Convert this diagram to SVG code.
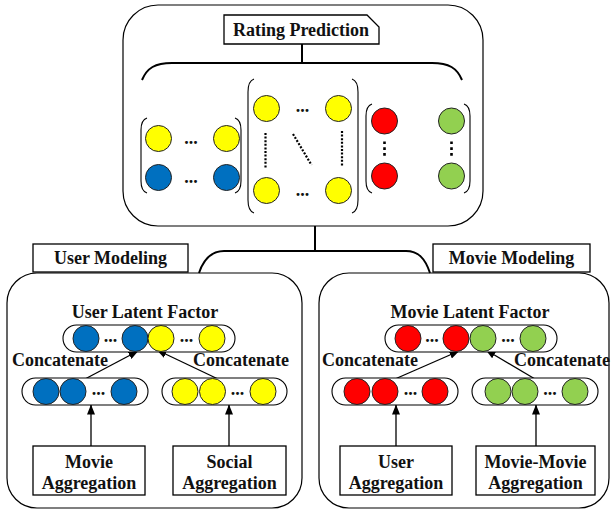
<svg xmlns="http://www.w3.org/2000/svg" width="611" height="510" viewBox="0 0 611 510">
  <style>
    .t { font-family: "Liberation Serif", "Times New Roman", serif; font-weight: bold; font-size: 18px; fill: #111; text-anchor: middle; }
    .panel { fill: #fff; stroke: #000; stroke-width: 1.2; }
    .lbl { fill: #fff; stroke: #000; stroke-width: 1.3; }
    .pill { fill: #fff; stroke: #000; stroke-width: 1.1; }
    .brk { fill: none; stroke: #000; stroke-width: 1.1; }
    .wire { fill: none; stroke: #000; stroke-width: 2; }
    .arr { fill: none; stroke: #000; stroke-width: 1.3; marker-end: url(#head); }
    .dot { fill: none; stroke: #000; stroke-width: 2.2; stroke-dasharray: 2 1.6; }
    .dot3 { fill: none; stroke: #000; stroke-width: 2.6; stroke-dasharray: 2.6 3.2; }
    .y { fill: #FFFF00; stroke: #222; stroke-width: 1; }
    .b { fill: #0070C0; stroke: #222; stroke-width: 1; }
    .r { fill: #FF0000; stroke: #222; stroke-width: 1; }
    .g { fill: #92D050; stroke: #222; stroke-width: 1; }
  </style>
  <defs>
    <marker id="head" viewBox="0 0 10 8" refX="9.5" refY="4" markerWidth="10" markerHeight="8" markerUnits="userSpaceOnUse" orient="auto">
      <path d="M0,0 L10,4 L0,8 Z" fill="#000"/>
    </marker>
  </defs>

  <!-- Rating prediction panel -->
  <g id="rating-prediction">
    <rect class="panel" x="123" y="5" width="360" height="221" rx="35"/>
    <polygon class="lbl" points="224,15 367,15 379,27 379,44 224,44"/>
    <text class="t" x="301" y="36">Rating Prediction</text>
    <!-- brace over the factor groups -->
    <path class="wire" d="M302,44 L302,63"/>
    <path class="wire" d="M142,80 C147,68 155,63 172,63 L432,63 C449,63 457,68 462,80"/>
  </g>

  <!-- user/movie factor matrix -->
  <g id="uv-matrix">
    <path class="brk" d="M147,118 Q141,120 141,130 L141,181 Q141,191 147,193"/>
    <path class="brk" d="M235,118 Q241,120 241,130 L241,181 Q241,191 235,193"/>
    <circle class="y" cx="158.5" cy="138.5" r="13"/>
    <circle class="y" cx="226.5" cy="138.5" r="13"/>
    <circle class="b" cx="158.5" cy="177.5" r="13"/>
    <circle class="b" cx="226.5" cy="177.5" r="13"/>
    <text class="t" x="191" y="144">...</text>
    <text class="t" x="191" y="183">...</text>
  </g>

  <!-- social matrix -->
  <g id="social-matrix">
    <path class="brk" d="M254,79 Q248,81 248,92 L248,200 Q248,211 254,213"/>
    <path class="brk" d="M352,79 Q358,81 358,92 L358,200 Q358,211 352,213"/>
    <circle class="y" cx="266.5" cy="108.5" r="13"/>
    <circle class="y" cx="338.5" cy="108.5" r="13"/>
    <circle class="y" cx="266.5" cy="190.5" r="13"/>
    <circle class="y" cx="338.5" cy="190.5" r="13"/>
    <text class="t" x="302.5" y="112">...</text>
    <text class="t" x="302.5" y="196">...</text>
    <line class="dot" x1="265.5" y1="133" x2="265.5" y2="168"/>
    <line class="dot" x1="342" y1="131" x2="342" y2="166"/>
    <line class="dot" x1="293" y1="134" x2="311.5" y2="165"/>
  </g>

  <!-- rating vectors -->
  <g id="rating-vectors">
    <path class="brk" d="M372,104 Q366,106 366,116 L366,181 Q366,191 372,193"/>
    <path class="brk" d="M464,104 Q470,106 470,116 L470,181 Q470,191 464,193"/>
    <circle class="r" cx="384.5" cy="121" r="13"/>
    <circle class="r" cx="384.5" cy="176" r="13"/>
    <circle class="g" cx="451.5" cy="121" r="13"/>
    <circle class="g" cx="451.5" cy="176" r="13"/>
    <line class="dot3" x1="384.5" y1="141.5" x2="384.5" y2="156"/>
    <line class="dot3" x1="451.5" y1="141.5" x2="451.5" y2="156"/>
  </g>

  <!-- user modeling panel -->
  <g id="user-modeling">
    <rect class="panel" x="7" y="273" width="295" height="235" rx="30"/>
    <rect class="lbl" x="33" y="244" width="155" height="28"/>
    <text class="t" x="110.5" y="264">User Modeling</text>
  </g>

  <!-- movie modeling panel -->
  <g id="movie-modeling">
    <rect class="panel" x="319" y="273" width="290" height="235" rx="30"/>
    <rect class="lbl" x="433" y="244" width="157" height="28"/>
    <text class="t" x="511.5" y="264">Movie Modeling</text>
  </g>

  <!-- connectors: panel links and arrows -->
  <g id="connectors">
    <path class="wire" d="M315,226 L315,251"/>
    <path class="wire" d="M199,273 C204,258 212,251 224,251 L406,251 C418,251 425,258 430,273"/>
    <line class="arr" x1="85" y1="379" x2="138" y2="351"/>
    <line class="arr" x1="218" y1="379" x2="157" y2="350"/>
    <line class="arr" x1="395" y1="379" x2="459" y2="351"/>
    <line class="arr" x1="535" y1="379" x2="486" y2="350"/>
    <line class="arr" x1="91" y1="446" x2="91" y2="405"/>
    <line class="arr" x1="229" y1="446" x2="229" y2="405"/>
    <line class="arr" x1="396" y1="446" x2="396" y2="405"/>
    <line class="arr" x1="536" y1="446" x2="536" y2="405"/>
  </g>

  <g id="user-latent-factor">
    <text class="t" x="145" y="318">User Latent Factor</text>
    <rect class="pill" x="63" y="325" width="172" height="27" rx="13.5"/>
    <circle class="b" cx="86" cy="338.5" r="13"/>
    <circle class="b" cx="135" cy="338.5" r="13"/>
    <circle class="y" cx="161" cy="338.5" r="13"/>
    <circle class="y" cx="212" cy="338.5" r="13"/>
    <text class="t" x="110.5" y="342">...</text>
    <text class="t" x="186.5" y="342">...</text>
  </g>
  <g id="user-item-vector">
    <text class="t" x="60" y="366">Concatenate</text>
    <rect class="pill" x="22" y="378" width="126" height="27" rx="13.5"/>
    <circle class="b" cx="46" cy="391.5" r="13"/>
    <circle class="b" cx="73" cy="391.5" r="13"/>
    <circle class="b" cx="124" cy="391.5" r="13"/>
    <text class="t" x="98.5" y="395">...</text>
  </g>
  <g id="user-social-vector">
    <text class="t" x="241" y="366">Concatenate</text>
    <rect class="pill" x="162" y="378" width="125" height="27" rx="13.5"/>
    <circle class="y" cx="185" cy="391.5" r="13"/>
    <circle class="y" cx="212.5" cy="391.5" r="13"/>
    <circle class="y" cx="263" cy="391.5" r="13"/>
    <text class="t" x="237.5" y="395">...</text>
  </g>
  <g id="movie-aggregation">
    <rect class="lbl" x="33" y="446" width="112" height="49"/>
    <text class="t" x="89" y="468">Movie</text>
    <text class="t" x="89" y="489">Aggregation</text>
  </g>
  <g id="social-aggregation">
    <rect class="lbl" x="173" y="446" width="113" height="49"/>
    <text class="t" x="229.5" y="468">Social</text>
    <text class="t" x="229.5" y="489">Aggregation</text>
  </g>

  <g id="movie-latent-factor">
    <text class="t" x="470" y="318">Movie Latent Factor</text>
    <rect class="pill" x="385" y="325" width="172" height="27" rx="13.5"/>
    <circle class="r" cx="408" cy="338.5" r="13"/>
    <circle class="r" cx="456" cy="338.5" r="13"/>
    <circle class="g" cx="483" cy="338.5" r="13"/>
    <circle class="g" cx="533" cy="338.5" r="13"/>
    <text class="t" x="432" y="342">...</text>
    <text class="t" x="508" y="342">...</text>
  </g>
  <g id="movie-user-vector">
    <text class="t" x="370" y="366">Concatenate</text>
    <rect class="pill" x="332" y="378" width="126" height="27" rx="13.5"/>
    <circle class="r" cx="357" cy="391.5" r="13"/>
    <circle class="r" cx="385" cy="391.5" r="13"/>
    <circle class="r" cx="435" cy="391.5" r="13"/>
    <text class="t" x="410.5" y="395">...</text>
  </g>
  <g id="movie-movie-vector">
    <text class="t" x="562" y="366">Concatenate</text>
    <rect class="pill" x="472" y="378" width="126" height="27" rx="13.5"/>
    <circle class="g" cx="498" cy="391.5" r="13"/>
    <circle class="g" cx="525" cy="391.5" r="13"/>
    <circle class="g" cx="575" cy="391.5" r="13"/>
    <text class="t" x="550" y="395">...</text>
  </g>
  <g id="user-aggregation">
    <rect class="lbl" x="340" y="446" width="112" height="49"/>
    <text class="t" x="396" y="468">User</text>
    <text class="t" x="396" y="489">Aggregation</text>
  </g>
  <g id="movie-movie-aggregation">
    <rect class="lbl" x="476" y="446" width="119" height="49"/>
    <text class="t" x="535.5" y="468">Movie-Movie</text>
    <text class="t" x="535.5" y="489">Aggregation</text>
  </g>
</svg>
